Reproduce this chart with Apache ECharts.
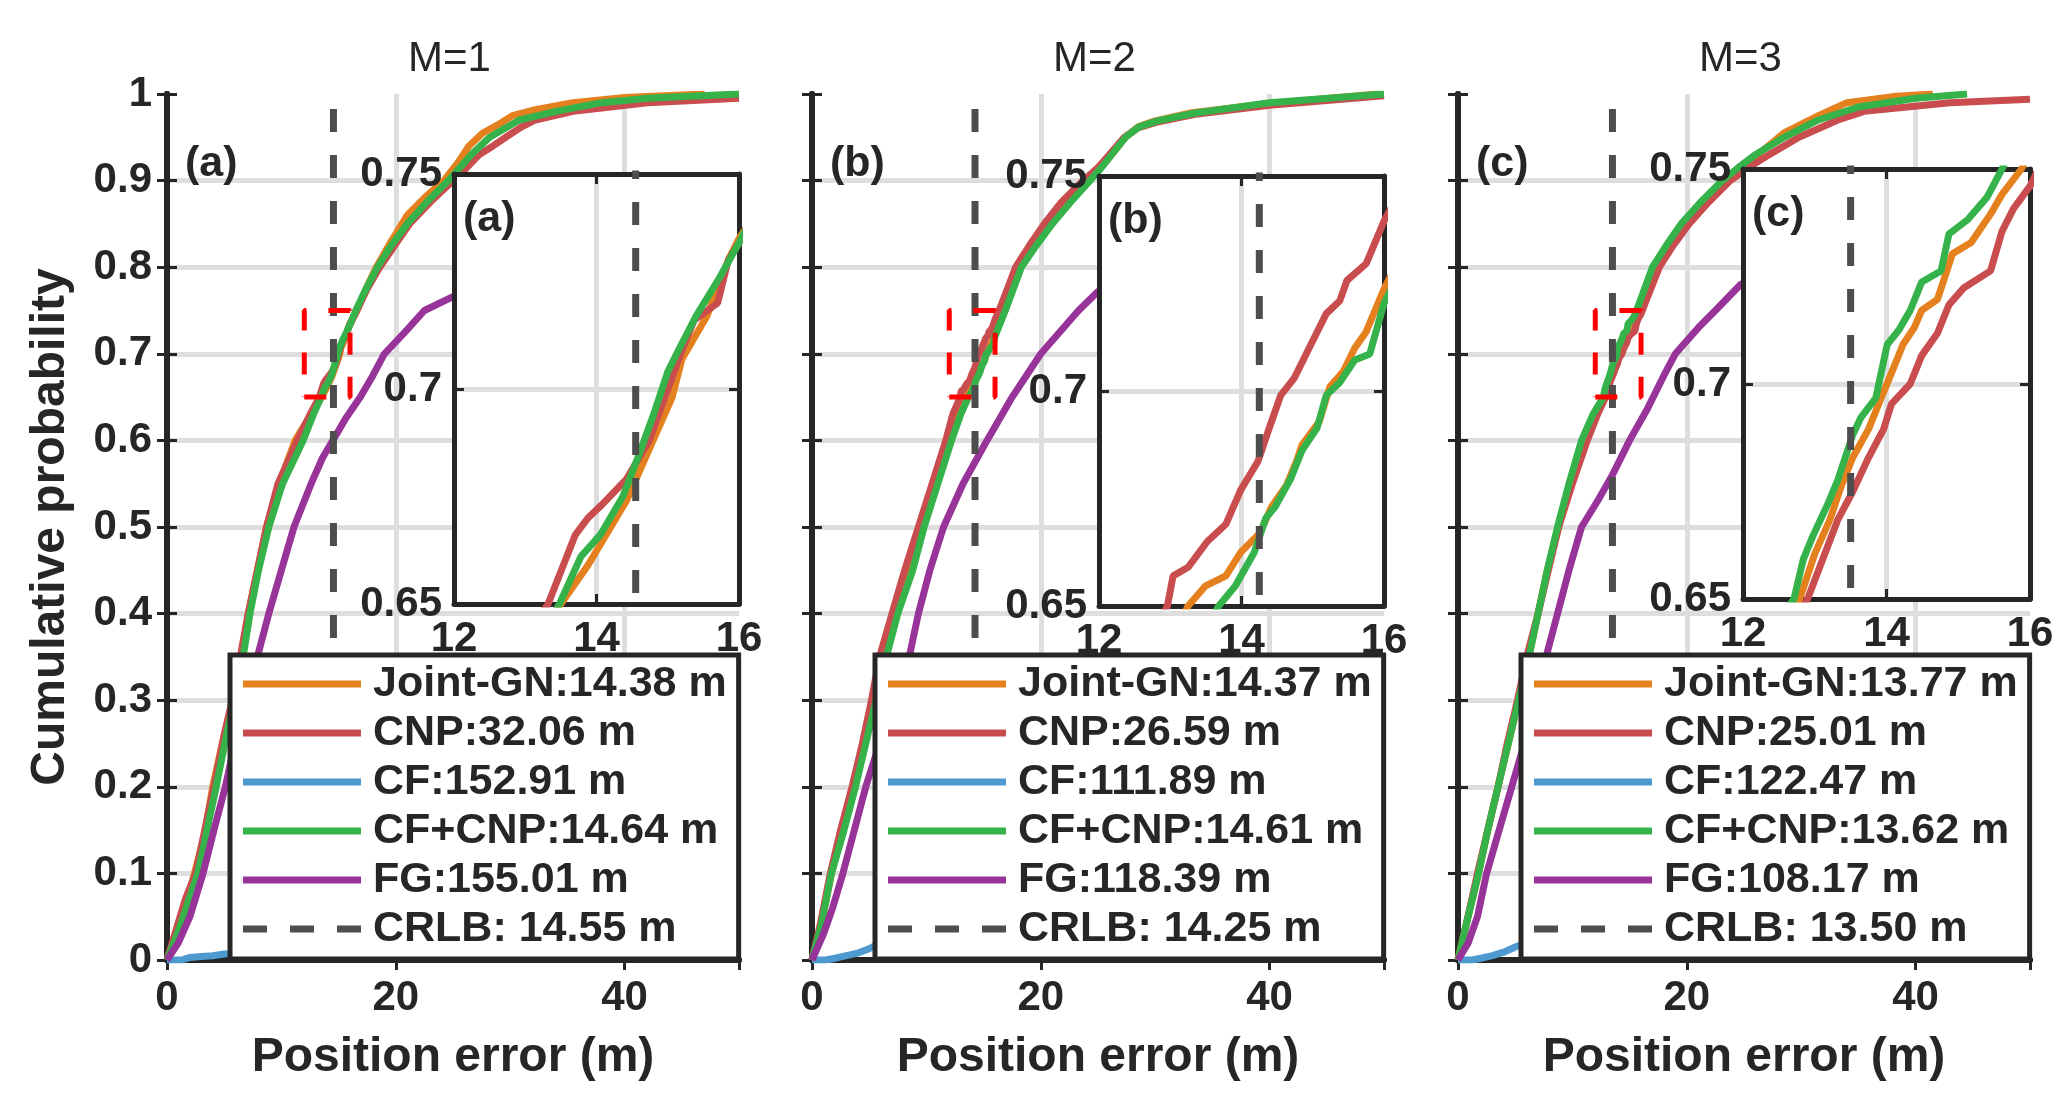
<!DOCTYPE html>
<html>
<head>
<meta charset="utf-8">
<script src="https://cdn.jsdelivr.net/npm/echarts@6/dist/echarts.min.js"></script>
<style>
html, body { margin: 0; padding: 0; background: #fff; }
#main { width: 2071px; height: 1110px; }
</style>
</head>
<body>
<div id="main"></div>
<script>
var panelTitles = ['M=1', 'M=2', 'M=3'];
var panelTags = ['(a)', '(b)', '(c)'];
var methodNames = ['Joint-GN', 'CNP', 'CF', 'CF+CNP', 'FG'];
var meanErrors = [
    [14.38, 32.06, 152.91, 14.64, 155.01],
    [14.37, 26.59, 111.89, 14.61, 118.39],
    [13.77, 25.01, 122.47, 13.62, 108.17]
];
var crlbValues = [14.55, 14.25, 13.50];
var zoomBoxX = [12, 16];
var zoomBoxY = [0.65, 0.75];

var jointGN1 = [[0,0],[0.8,0.03],[1.6,0.06],[2.4,0.1],[3.2,0.14],[4.0,0.2],[5.0,0.26],[5.8,0.3],[6.5,0.35],[7.1,0.4],[7.9,0.45],[8.7,0.5],[9.8,0.55],[11.2,0.6],[12.6,0.63],[13.5,0.65],[13.88,0.659],[14.42,0.674],[14.74,0.686],[15.06,0.698],[15.2,0.707],[15.55,0.717],[15.85,0.73],[16.0,0.735],[16.6,0.75],[17.4,0.775],[18.3,0.8],[19.6,0.83],[21.0,0.86],[22.5,0.88],[24.2,0.9],[25.4,0.92],[26.4,0.94],[27.6,0.955],[29.0,0.965],[30.2,0.975],[32.2,0.982],[35.5,0.99],[40,0.996],[47,1.0]];
var cnp1 = [[0,0],[0.8,0.035],[1.6,0.07],[2.5,0.1],[3.3,0.15],[4.1,0.2],[5.0,0.26],[5.7,0.3],[6.4,0.35],[7.1,0.4],[7.9,0.45],[8.7,0.5],[9.7,0.55],[11.4,0.6],[12.5,0.63],[13.32,0.65],[13.7,0.666],[13.88,0.67],[14.07,0.673],[14.42,0.679],[14.74,0.688],[15.0,0.7],[15.2,0.709],[15.37,0.716],[15.7,0.72],[15.85,0.73],[16.0,0.734],[16.6,0.75],[17.5,0.775],[18.6,0.8],[19.9,0.825],[21.2,0.85],[23.0,0.875],[25.0,0.9],[26.2,0.915],[27.3,0.93],[28.5,0.94],[29.6,0.95],[31.0,0.962],[32.2,0.97],[35.5,0.98],[42,0.99],[50,0.995]];
var cf1 = [[0,0],[1.3,0],[2,0.003],[3,0.004],[4,0.005],[5,0.007],[8,0.01],[15,0.02],[30,0.05],[50,0.1]];
var cfcnp1 = [[0,0],[0.9,0.03],[1.8,0.065],[2.7,0.1],[3.5,0.15],[4.3,0.2],[5.2,0.26],[5.9,0.3],[6.65,0.35],[7.25,0.4],[8.0,0.45],[8.9,0.5],[10.1,0.55],[11.9,0.6],[12.8,0.63],[13.48,0.65],[13.78,0.661],[14.05,0.666],[14.37,0.675],[14.58,0.684],[14.8,0.694],[15.0,0.704],[15.18,0.71],[15.4,0.717],[15.73,0.726],[16.0,0.734],[16.5,0.75],[17.4,0.775],[18.4,0.8],[19.6,0.825],[21.0,0.85],[22.7,0.875],[24.6,0.9],[25.6,0.915],[26.6,0.93],[28.2,0.95],[30.8,0.97],[34,0.98],[38,0.99],[42,0.995],[50,1.0]];
var fg1 = [[0,0],[1.0,0.02],[2.0,0.05],[3.15,0.1],[4.1,0.15],[5.1,0.2],[6.1,0.26],[7.0,0.3],[7.9,0.35],[8.9,0.4],[10.0,0.45],[11.1,0.5],[12.6,0.55],[13.6,0.58],[14.5,0.6],[15.6,0.625],[16.9,0.65],[18.0,0.675],[19.0,0.7],[20.8,0.725],[22.5,0.75],[25,0.766],[30,0.8],[40,0.85],[50,0.88]];

var jointGN2 = [[0,0],[0.8,0.04],[1.7,0.1],[2.7,0.15],[3.7,0.2],[4.6,0.25],[5.4,0.3],[6.2,0.35],[7.2,0.4],[8.4,0.45],[9.6,0.5],[10.8,0.55],[12.0,0.6],[12.7,0.63],[13.25,0.65],[13.49,0.6546],[13.78,0.657],[13.99,0.6625],[14.26,0.667],[14.42,0.673],[14.63,0.678],[14.77,0.6836],[14.85,0.6875],[15.09,0.6928],[15.24,0.701],[15.43,0.7046],[15.59,0.71],[15.75,0.7138],[16.0,0.7237],[16.8,0.75],[18.1,0.8],[19.3,0.825],[20.7,0.85],[22.2,0.875],[24.0,0.9],[25.2,0.915],[26.2,0.93],[27.4,0.95],[28.5,0.962],[30.0,0.969],[33,0.978],[40,0.989],[49.5,1.0]];
var cnp2 = [[0,0],[0.7,0.04],[1.6,0.1],[2.5,0.15],[3.5,0.2],[4.4,0.25],[5.2,0.3],[5.9,0.35],[7.0,0.4],[8.1,0.45],[9.3,0.5],[10.5,0.55],[11.7,0.6],[12.3,0.63],[12.96,0.65],[13.04,0.657],[13.25,0.659],[13.52,0.665],[13.78,0.669],[13.99,0.677],[14.23,0.6836],[14.39,0.6914],[14.55,0.699],[14.74,0.703],[14.95,0.71],[15.19,0.718],[15.38,0.721],[15.48,0.7257],[15.75,0.7296],[16.0,0.7395],[16.5,0.755],[17.8,0.8],[19.0,0.825],[20.3,0.85],[21.8,0.875],[23.7,0.9],[25.0,0.915],[26.0,0.93],[27.3,0.95],[28.5,0.961],[30.3,0.968],[33.7,0.977],[40,0.987],[50,0.998]];
var cf2 = [[0,0],[1.2,0],[2,0.002],[3,0.005],[4,0.008],[5,0.013],[6,0.02],[10,0.03],[20,0.06],[50,0.15]];
var cfcnp2 = [[0,0],[0.8,0.04],[1.7,0.1],[2.8,0.15],[3.8,0.2],[4.7,0.25],[5.6,0.3],[6.5,0.35],[7.5,0.4],[8.8,0.45],[9.8,0.5],[11.0,0.55],[12.2,0.6],[13.0,0.63],[13.68,0.65],[13.91,0.6546],[14.18,0.6625],[14.34,0.6704],[14.47,0.673],[14.69,0.6796],[14.85,0.6862],[15.06,0.6914],[15.19,0.699],[15.38,0.702],[15.59,0.7072],[15.8,0.7086],[16.0,0.7204],[16.9,0.75],[18.3,0.8],[19.6,0.825],[21.0,0.85],[22.6,0.875],[24.3,0.9],[25.3,0.915],[26.2,0.93],[27.4,0.95],[28.6,0.962],[30.2,0.969],[33.5,0.978],[40,0.99],[50,1.0]];
var fg2 = [[0,0],[1.0,0.03],[1.8,0.06],[2.7,0.1],[3.7,0.15],[4.7,0.2],[5.9,0.25],[7.2,0.3],[8.5,0.35],[9.3,0.4],[10.3,0.45],[11.5,0.5],[13.2,0.55],[15.3,0.6],[17.5,0.65],[20.0,0.7],[23.3,0.75],[25,0.772],[30,0.8],[40,0.84],[50,0.87]];

var jointGN3 = [[0,0],[0.7,0.04],[1.8,0.1],[2.6,0.15],[3.5,0.2],[4.4,0.25],[5.3,0.3],[6.2,0.35],[7.0,0.4],[7.8,0.45],[8.8,0.5],[9.8,0.55],[11.0,0.6],[12.0,0.63],[12.79,0.65],[13.0,0.6605],[13.21,0.6684],[13.37,0.6763],[13.53,0.6829],[13.75,0.6895],[13.91,0.6961],[14.07,0.7026],[14.23,0.7092],[14.39,0.7132],[14.49,0.7171],[14.71,0.7197],[14.92,0.7303],[15.18,0.7329],[15.45,0.7395],[15.61,0.7441],[15.88,0.75],[17.4,0.8],[18.5,0.825],[19.8,0.85],[21.5,0.875],[23.3,0.9],[24.6,0.915],[26.2,0.93],[28.5,0.955],[31.5,0.975],[34,0.99],[38,0.997],[41.5,1.0]];
var cnp3 = [[0,0],[0.7,0.04],[1.7,0.1],[2.6,0.15],[3.5,0.2],[4.3,0.25],[5.2,0.3],[6.0,0.35],[7.0,0.4],[7.9,0.45],[8.8,0.5],[10.0,0.55],[11.3,0.6],[12.2,0.63],[12.9,0.65],[13.11,0.6592],[13.32,0.6684],[13.53,0.675],[13.75,0.6829],[13.96,0.6895],[14.07,0.6954],[14.33,0.7],[14.49,0.7066],[14.71,0.7118],[14.87,0.7184],[15.08,0.7224],[15.45,0.7263],[15.61,0.7355],[15.77,0.7408],[16.0,0.746],[16.4,0.76],[17.6,0.8],[18.8,0.825],[20.2,0.85],[21.9,0.875],[23.8,0.9],[25.4,0.915],[27.2,0.93],[29.8,0.95],[33.2,0.97],[35.5,0.98],[43,0.99],[50,0.994]];
var cf3 = [[0,0],[1.2,0],[2,0.002],[3,0.005],[4,0.009],[5,0.015],[6,0.02],[10,0.035],[20,0.07],[50,0.16]];
var cfcnp3 = [[0,0],[0.7,0.04],[1.8,0.1],[2.6,0.15],[3.5,0.2],[4.4,0.25],[5.3,0.3],[6.2,0.35],[7.0,0.4],[7.8,0.45],[8.7,0.5],[9.7,0.55],[10.8,0.6],[11.8,0.63],[12.71,0.65],[12.84,0.6592],[12.97,0.6645],[13.19,0.6724],[13.32,0.6776],[13.53,0.6882],[13.64,0.6921],[13.85,0.6967],[14.01,0.7092],[14.17,0.7125],[14.33,0.7171],[14.49,0.7237],[14.76,0.7263],[14.87,0.7349],[15.13,0.7382],[15.4,0.7434],[15.61,0.75],[17.0,0.8],[18.2,0.825],[19.5,0.85],[21.2,0.875],[23.1,0.9],[24.5,0.915],[26.0,0.93],[28.5,0.95],[31.5,0.97],[35,0.985],[40,0.995],[44.5,1.0]];
var fg3 = [[0,0],[0.9,0.02],[1.7,0.05],[2.5,0.1],[3.6,0.15],[4.7,0.2],[5.8,0.25],[6.8,0.3],[7.7,0.35],[8.7,0.4],[9.7,0.45],[10.8,0.5],[12.2,0.53],[13.5,0.56],[15.0,0.6],[16.5,0.635],[18.0,0.675],[19.0,0.7],[21.0,0.73],[22.5,0.75],[24.7,0.78],[30,0.81],[40,0.85],[50,0.87]];

var cdfData = [
    [jointGN1, cnp1, cf1, cfcnp1, fg1],
    [jointGN2, cnp2, cf2, cfcnp2, fg2],
    [jointGN3, cnp3, cf3, cfcnp3, fg3]
];
var insetMethods = [0, 1, 3];

var colors = ['#e5801f', '#c94c4e', '#4d9ad0', '#35b34a', '#973399'];
var crlbColor = '#4d4d4d';
var ink = '#262626';
var gridGray = '#dedede';
var fontFamily = "'Liberation Sans', Arial, Helvetica, sans-serif";
var dashIcon = 'path://M0,0H24V7H0Z M47,0H71V7H47Z M94,0H118V7H94Z';

var panelLeft = [167, 812, 1458];
var panelTop = 94, panelW = 572, panelH = 866;
var insetDx = [287, 287, 285];
var insetTop = [174, 176, 169];
var insetH = 430;

var grids = [], xAxes = [], yAxes = [], series = [], legends = [], graphics = [];

function tickFont(extra) {
    return Object.assign({ color: ink, fontSize: 42, fontWeight: 'bold', fontFamily: fontFamily }, extra || {});
}

for (var p = 0; p < 3; p++) {
    var L = panelLeft[p];
    grids.push({ left: L, top: panelTop, width: panelW, height: panelH });
    grids.push({
        left: L + insetDx[p], top: insetTop[p], width: panelW - insetDx[p], height: insetH,
        show: true, backgroundColor: '#fff', borderWidth: 0, z: 5
    });
    var gMain = 2 * p, gIn = 2 * p + 1;

    // main axes
    xAxes.push({
        gridIndex: gMain, type: 'value', min: 0, max: 50, interval: 20,
        axisLine: { lineStyle: { color: ink, width: 6 } },
        axisTick: { inside: true, length: 10, lineStyle: { color: ink, width: 3 } },
        axisLabel: tickFont({ margin: 17, showMaxLabel: false }),
        splitLine: { show: true, showMinLine: false, showMaxLine: false, lineStyle: { color: gridGray, width: 5 } },
        name: 'Position error (m)', nameLocation: 'middle', nameGap: 74,
        nameTextStyle: { color: ink, fontSize: 48, fontWeight: 'bold', fontFamily: fontFamily }
    });
    xAxes.push({
        gridIndex: gMain, type: 'value', position: 'top', min: 0, max: 50, interval: 20,
        axisLine: { lineStyle: { color: ink, width: 6 } },
        axisTick: { inside: true, length: 10, lineStyle: { color: ink, width: 3 } },
        axisLabel: { show: false }, splitLine: { show: false }
    });
    var yMain = {
        gridIndex: gMain, type: 'value', min: 0, max: 1, interval: 0.1,
        axisLine: { show: true, lineStyle: { color: ink, width: 6 } },
        axisTick: { show: true, inside: true, length: 10, lineStyle: { color: ink, width: 3 } },
        axisLabel: tickFont({ margin: 15, show: p === 0 }),
        splitLine: { show: true, showMinLine: false, showMaxLine: false, lineStyle: { color: gridGray, width: 5 } }
    };
    if (p === 0) {
        yMain.name = 'Cumulative probability';
        yMain.nameLocation = 'middle';
        yMain.nameGap = 92;
        yMain.nameTextStyle = { color: ink, fontSize: 48, fontWeight: 'bold', fontFamily: fontFamily };
    }
    yAxes.push(yMain);
    yAxes.push({
        gridIndex: gMain, type: 'value', position: 'right', min: 0, max: 1, interval: 0.1,
        axisLine: { show: true, lineStyle: { color: ink, width: 6 } },
        axisTick: { show: true, inside: true, length: 10, lineStyle: { color: ink, width: 3 } },
        axisLabel: { show: false }, splitLine: { show: false }
    });

    // inset axes
    xAxes.push({
        gridIndex: gIn, type: 'value', min: zoomBoxX[0], max: zoomBoxX[1], interval: 2, z: 6,
        axisLine: { lineStyle: { color: ink, width: 5 } },
        axisTick: { inside: true, length: 10, lineStyle: { color: ink, width: 3 } },
        axisLabel: tickFont({ margin: 14 }),
        splitLine: { show: true, showMinLine: false, showMaxLine: false, lineStyle: { color: gridGray, width: 5 } }
    });
    xAxes.push({
        gridIndex: gIn, type: 'value', position: 'top', min: zoomBoxX[0], max: zoomBoxX[1], interval: 2, z: 6,
        axisLine: { lineStyle: { color: ink, width: 5 } },
        axisTick: { inside: true, length: 10, lineStyle: { color: ink, width: 3 } },
        axisLabel: { show: false }, splitLine: { show: false }
    });
    yAxes.push({
        gridIndex: gIn, type: 'value', min: zoomBoxY[0], max: zoomBoxY[1], interval: 0.05, z: 6,
        axisLine: { show: true, lineStyle: { color: ink, width: 5 } },
        axisTick: { show: true, inside: true, length: 10, lineStyle: { color: ink, width: 3 } },
        axisLabel: tickFont({ margin: 12, formatter: function (v) { return String(+v.toFixed(2)); } }),
        splitLine: { show: true, showMinLine: false, showMaxLine: false, lineStyle: { color: gridGray, width: 5 } }
    });
    yAxes.push({
        gridIndex: gIn, type: 'value', position: 'right', min: zoomBoxY[0], max: zoomBoxY[1], interval: 0.05, z: 6,
        axisLine: { show: true, lineStyle: { color: ink, width: 5 } },
        axisTick: { show: true, inside: true, length: 10, lineStyle: { color: ink, width: 3 } },
        axisLabel: { show: false }, splitLine: { show: false }
    });

    var xMainIdx = 4 * p, yMainIdx = 4 * p, xInIdx = 4 * p + 2, yInIdx = 4 * p + 2;
    var names = [], legendItems = [];
    for (var k = 0; k < methodNames.length; k++) {
        var nm = methodNames[k] + ':' + meanErrors[p][k].toFixed(2) + ' m';
        names.push(nm);
        legendItems.push({ name: nm, icon: 'rect' });
        series.push({
            type: 'line', name: nm, xAxisIndex: xMainIdx, yAxisIndex: yMainIdx,
            data: cdfData[p][k], symbol: 'none', color: colors[k], z: 2,
            lineStyle: { color: colors[k], width: 7 }
        });
    }
    var crlbName = 'CRLB: ' + crlbValues[p].toFixed(2) + ' m';
    legendItems.push({ name: crlbName, icon: dashIcon });
    var crlbLine = [[crlbValues[p], 0], [crlbValues[p], 1]];
    series.push({
        type: 'line', name: crlbName, xAxisIndex: xMainIdx, yAxisIndex: yMainIdx,
        data: crlbLine, symbol: 'none', color: crlbColor, z: 2,
        lineStyle: { color: crlbColor, width: 7, type: [23, 23] }
    });
    series.push({
        type: 'line', name: 'zoom region ' + panelTags[p], xAxisIndex: xMainIdx, yAxisIndex: yMainIdx,
        data: [[zoomBoxX[0], zoomBoxY[0]], [zoomBoxX[1], zoomBoxY[0]], [zoomBoxX[1], zoomBoxY[1]],
               [zoomBoxX[0], zoomBoxY[1]], [zoomBoxX[0], zoomBoxY[0]]],
        symbol: 'none', color: '#ff0000', z: 3,
        lineStyle: { color: '#ff0000', width: 5, type: [22, 22] }
    });

    // inset copies of the close curves
    insetMethods.forEach(function (k) {
        series.push({
            type: 'line', name: names[k], xAxisIndex: xInIdx, yAxisIndex: yInIdx,
            data: cdfData[p][k], symbol: 'none', color: colors[k], z: 7,
            lineStyle: { color: colors[k], width: 7 }
        });
    });
    series.push({
        type: 'line', name: crlbName, xAxisIndex: xInIdx, yAxisIndex: yInIdx,
        data: crlbLine, symbol: 'none', color: crlbColor, z: 7,
        lineStyle: { color: crlbColor, width: 7, type: [23, 23] }
    });

    legends.push({
        data: legendItems, orient: 'vertical', left: L + 63, top: 655, z: 8,
        selectedMode: false, itemWidth: 118, itemHeight: 7, itemGap: 5,
        padding: [7, 12, 8, 13],
        backgroundColor: '#fff', borderColor: ink, borderWidth: 5, borderRadius: 0,
        textStyle: { color: ink, fontSize: 43, fontWeight: 'bold', fontFamily: fontFamily, lineHeight: 44, padding: [0, 0, 0, 7] }
    });

    graphics.push({
        type: 'text', left: L + panelW / 2 - 45, top: 38, z: 10,
        style: { text: panelTitles[p], fill: ink, font: 'normal 42px ' + fontFamily }
    });
    graphics.push({
        type: 'text', left: L + 18, top: 143, z: 10,
        style: { text: panelTags[p], fill: ink, font: 'bold 43px ' + fontFamily }
    });
    graphics.push({
        type: 'text', left: L + insetDx[p] + 9, top: insetTop[p] + 24, z: 10,
        style: { text: panelTags[p], fill: ink, font: 'bold 43px ' + fontFamily }
    });
}

var chart = echarts.init(document.getElementById('main'));
chart.setOption({
    backgroundColor: '#fff',
    animation: false,
    textStyle: { fontFamily: fontFamily },
    grid: grids,
    xAxis: xAxes,
    yAxis: yAxes,
    legend: legends,
    graphic: graphics,
    series: series
});
</script>
</body>
</html>
